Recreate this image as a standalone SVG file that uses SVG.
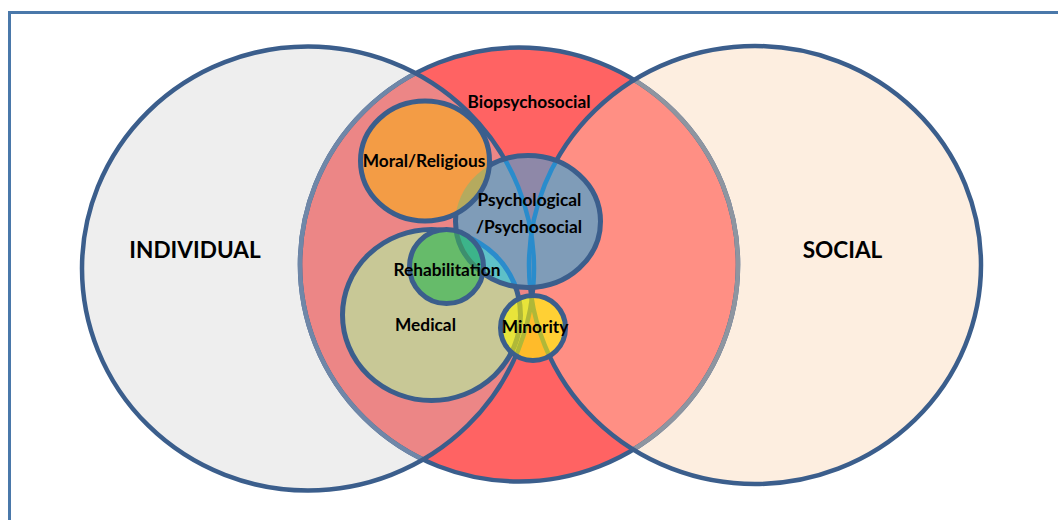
<svg xmlns="http://www.w3.org/2000/svg" width="1058" height="520" viewBox="0 0 1058 520">
<defs>
<style>
.dk{fill:none;stroke:#3b5e8c}
.main{stroke-width:4.5}
.inner{stroke-width:5}
.lbl{font-family:Lato,"Liberation Sans",sans-serif;font-weight:bold;fill:#000;text-anchor:middle}
.s{font-size:17.3px}
.b{font-size:22.6px}
</style>
<ellipse id="shL" cx="308" cy="268.5" rx="226" ry="222"/>
<ellipse id="shM" cx="519" cy="264.5" rx="219" ry="217"/>
<ellipse id="shR" cx="755" cy="265" rx="226" ry="219"/>
<ellipse id="shMoral" cx="425" cy="161" rx="64.5" ry="60"/>
<ellipse id="shPsy" cx="528" cy="221.5" rx="72.5" ry="66"/>
<ellipse id="shMed" cx="431.5" cy="315" rx="89" ry="85.5"/>
<circle id="shReh" cx="446.5" cy="266.5" r="37"/>
<circle id="shMin" cx="533" cy="328" r="32.5"/>
<clipPath id="cL"><use href="#shL"/></clipPath>
<clipPath id="cR"><use href="#shR"/></clipPath>
<clipPath id="cPsy"><use href="#shPsy"/></clipPath>
<clipPath id="cReh"><use href="#shReh"/></clipPath>
<clipPath id="cMin"><use href="#shMin"/></clipPath>
</defs>

<rect x="9.5" y="12.5" width="1100" height="600" fill="#ffffff" stroke="#4a78aa" stroke-width="3"/>

<g id="individual">
<use href="#shL" fill="#eeeeee"/>
</g>
<g id="social">
<use href="#shR" fill="#fdeee0"/>
</g>
<g id="biopsychosocial">
<use href="#shM" fill="#ff6363"/>
<g clip-path="url(#cL)"><use href="#shM" fill="#ec8686"/></g>
<g clip-path="url(#cR)"><use href="#shM" fill="#ff8f84"/></g>
<use href="#shM" class="dk main"/>
<g clip-path="url(#cL)"><use href="#shM" fill="none" stroke="#6f87a8" stroke-width="4.5"/></g>
<g clip-path="url(#cR)"><use href="#shM" fill="none" stroke="#8e95a0" stroke-width="4.5"/></g>
<text class="lbl s" x="529" y="108">Biopsychosocial</text>
</g>
<g id="outlines">
<use href="#shL" class="dk main"/>
<use href="#shR" class="dk main"/>
</g>
<text class="lbl b" x="195" y="258">INDIVIDUAL</text>
<text class="lbl b" x="842.5" y="258">SOCIAL</text>

<g id="medical">
<use href="#shMed" fill="#c8c896"/>
<use href="#shMed" class="dk inner"/>
</g>

<g id="psychological">
<use href="#shPsy" fill="#8e88a8"/>
<g clip-path="url(#cPsy)">
<use href="#shL" fill="#7f9cb8"/>
<use href="#shR" fill="#7f9cb8"/>
<use href="#shMed" fill="#5ec0c8"/>
<use href="#shL" fill="none" stroke="#2a8ccc" stroke-width="4.5"/>
<use href="#shR" fill="none" stroke="#2a8ccc" stroke-width="4.5"/>
<use href="#shMed" fill="none" stroke="#2a8ccc" stroke-width="5"/>
</g>
<use href="#shPsy" class="dk inner"/>
</g>

<g id="moral">
<use href="#shMoral" fill="#f39c45"/>
<g clip-path="url(#cPsy)"><use href="#shMoral" fill="#b5aa5e"/></g>
<use href="#shMoral" class="dk inner"/>
<text class="lbl s" x="424" y="167">Moral/Religious</text>
</g>

<g id="rehabilitation">
<use href="#shReh" fill="#66bb6a"/>
<g clip-path="url(#cReh)">
<use href="#shPsy" fill="#3cb48a"/>
<use href="#shPsy" fill="none" stroke="#3d8f6e" stroke-width="5"/>
</g>
<use href="#shReh" class="dk inner"/>
</g>

<g id="minority">
<use href="#shMin" fill="#ffbb2a"/>
<g clip-path="url(#cMin)">
<use href="#shL" fill="#e8e43a"/>
<use href="#shR" fill="#ffd034"/>
<use href="#shL" fill="none" stroke="#b0b838" stroke-width="4.5"/>
<use href="#shR" fill="none" stroke="#b0b838" stroke-width="4.5"/>
<use href="#shMed" fill="none" stroke="#b0b838" stroke-width="5"/>
</g>
<use href="#shMin" class="dk inner"/>
</g>

<g id="labels">
<text class="lbl s" x="529.5" y="206">Psychological</text>
<text class="lbl s" x="529" y="232.5">/Psychosocial</text>
<text class="lbl s" x="447" y="276">Rehabilitation</text>
<text class="lbl s" x="425.5" y="330.5">Medical</text>
<text class="lbl s" x="535" y="332.5">Minority</text>
</g>
</svg>
